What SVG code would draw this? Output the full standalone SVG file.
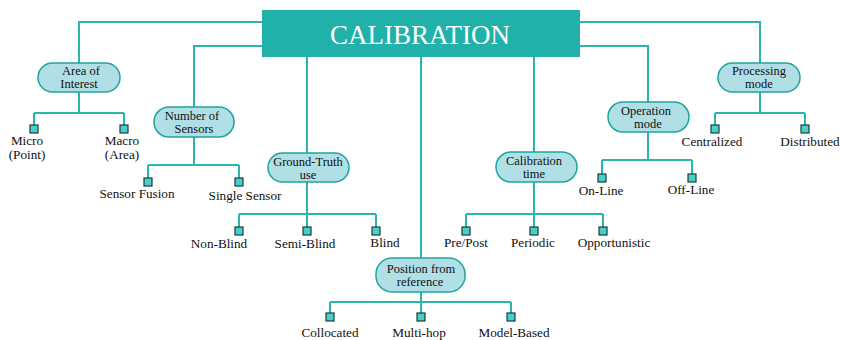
<svg xmlns="http://www.w3.org/2000/svg" width="841" height="340" viewBox="0 0 841 340">
<style>
.ln{fill:none;stroke:#2cb5ad;stroke-width:2}
.nd{fill:#b0dfe5;stroke:#1fa5a0;stroke-width:1.5}
.sq{fill:#48cfca;stroke:#1e3a3a;stroke-width:1.2}
text{fill:#111;text-anchor:middle}
.nt{font-size:12.5px}
.lb{font-size:13.2px}
.tt{font-size:27px;fill:#fff}
</style>
<rect width="841" height="340" fill="#fff"/>
<g id="connectors">
<path class="ln" d="M262,22H79V63 M262,46H194V107 M580,22H760V63 M580,46H648V102 M307,57V153 M421,57V258 M534,57V152"/>
<path class="ln" d="M79,92V113 M34,113H124 M34,113V125 M124,113V125"/>
<path class="ln" d="M194,137V165 M148,165H239 M148,165V178 M239,165V178"/>
<path class="ln" d="M307,182V214 M239,214H376 M239,214V227 M307,214V227 M376,214V227"/>
<path class="ln" d="M421,292V302 M330,302H511 M330,302V313 M421,302V313 M511,302V313"/>
<path class="ln" d="M534,182V214 M466,214H603 M466,214V227 M534,214V227 M603,214V227"/>
<path class="ln" d="M648,132V160 M602,160H692 M602,160V174 M692,160V174"/>
<path class="ln" d="M760,92V113 M715,113H805 M715,113V125 M805,113V125"/>
</g>
<g font-family="Liberation Serif, Tinos, Times New Roman, DejaVu Serif, serif">
<g id="calibration">
<rect x="262" y="10" width="318" height="47" fill="#20b2aa"/>
<text class="tt" x="420" y="44">CALIBRATION</text>
</g>
<g id="area">
<rect class="nd" x="38" y="63" width="82" height="29" rx="14.5"/>
<text class="nt" x="81" y="75">Area of</text><text class="nt" x="79" y="88">Interest</text>
</g>
<g id="sensors">
<rect class="nd" x="154" y="107" width="80" height="30" rx="15"/>
<text class="nt" x="192" y="120">Number of</text><text class="nt" x="194" y="133">Sensors</text>
</g>
<g id="groundtruth">
<rect class="nd" x="268" y="153" width="81" height="29" rx="14.5"/>
<text class="nt" x="308" y="166">Ground-Truth</text><text class="nt" x="308" y="179">use</text>
</g>
<g id="position">
<rect class="nd" x="376" y="258" width="89" height="34" rx="16"/>
<text class="nt" x="421" y="273">Position from</text><text class="nt" x="420" y="286">reference</text>
</g>
<g id="caltime">
<rect class="nd" x="496" y="152" width="81" height="30" rx="15"/>
<text class="nt" x="534" y="165">Calibration</text><text class="nt" x="534" y="178">time</text>
</g>
<g id="operation">
<rect class="nd" x="608" y="102" width="81" height="30" rx="15"/>
<text class="nt" x="646" y="115">Operation</text><text class="nt" x="648" y="128">mode</text>
</g>
<g id="processing">
<rect class="nd" x="718" y="63" width="82" height="29" rx="14.5"/>
<text class="nt" x="759" y="75">Processing</text><text class="nt" x="759" y="88">mode</text>
</g>
<g id="leaves">
<rect class="sq" x="30" y="125" width="8" height="8"/><text class="lb" x="27" y="145">Micro</text><text class="lb" x="27" y="159">(Point)</text>
<rect class="sq" x="120" y="125" width="8" height="8"/><text class="lb" x="122" y="145">Macro</text><text class="lb" x="122" y="159">(Area)</text>
<rect class="sq" x="144" y="178" width="8" height="8"/><text class="lb" x="137" y="198">Sensor Fusion</text>
<rect class="sq" x="235" y="178" width="8" height="8"/><text class="lb" x="245" y="200">Single Sensor</text>
<rect class="sq" x="235" y="227" width="8" height="8"/><text class="lb" x="219" y="248">Non-Blind</text>
<rect class="sq" x="303" y="227" width="8" height="8"/><text class="lb" x="305" y="248">Semi-Blind</text>
<rect class="sq" x="372" y="227" width="8" height="8"/><text class="lb" x="385" y="247">Blind</text>
<rect class="sq" x="326" y="313" width="8" height="8"/><text class="lb" x="330" y="337">Collocated</text>
<rect class="sq" x="417" y="313" width="8" height="8"/><text class="lb" x="419" y="337">Multi-hop</text>
<rect class="sq" x="507" y="313" width="8" height="8"/><text class="lb" x="514" y="337">Model-Based</text>
<rect class="sq" x="462" y="227" width="8" height="8"/><text class="lb" x="466" y="247">Pre/Post</text>
<rect class="sq" x="530" y="227" width="8" height="8"/><text class="lb" x="533" y="247">Periodic</text>
<rect class="sq" x="599" y="227" width="8" height="8"/><text class="lb" x="614" y="247">Opportunistic</text>
<rect class="sq" x="598" y="174" width="8" height="8"/><text class="lb" x="601" y="195">On-Line</text>
<rect class="sq" x="688" y="174" width="8" height="8"/><text class="lb" x="691" y="194">Off-Line</text>
<rect class="sq" x="711" y="125" width="8" height="8"/><text class="lb" x="712" y="146">Centralized</text>
<rect class="sq" x="801" y="125" width="8" height="8"/><text class="lb" x="810" y="146">Distributed</text>
</g>
</g>
</svg>
